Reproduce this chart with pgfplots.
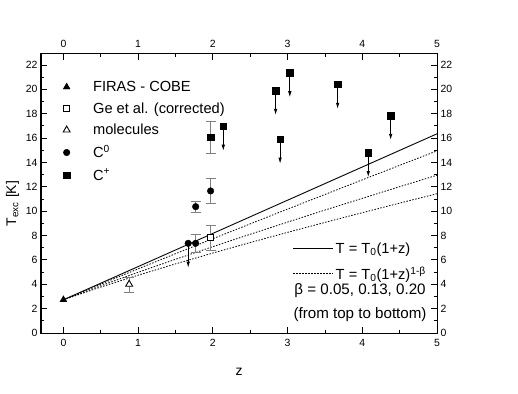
\documentclass[border=0pt]{standalone}
\usepackage{fontspec}
\setmainfont{Liberation Sans}
\usepackage{pgfplots}
\pgfplotsset{compat=1.18}
\usetikzlibrary{arrows.meta}

\newcommand\lf{\fontsize{14.7}{17}\selectfont}

\pgfplotsset{
  base/.style={
    width=396bp, height=279bp, scale only axis,
    xmin=-0.3, xmax=5, ymin=0, ymax=22.9,
    xtick={0,...,5}, minor xtick={0.5,1.5,...,4.5},
    ytick={0,2,...,22}, minor ytick={1,3,...,21},
    major tick length=6bp, minor tick length=3.5bp,
    tick style={black, line width=0.8bp},
    axis line style={line width=1bp},
    tick label style={font=\fontsize{10.5}{12}\selectfont},
    /pgf/number format/assume math mode=true,
  },
  % error bars only, drawn below the marks
  ebar/.style={
    only marks, mark=none, forget plot,
    error bars/.cd, y dir=both, y explicit,
    error bar style={gray, line width=0.7bp},
    error mark options={rotate=90, gray, mark size=5bp, line width=0.7bp},
  },
}

\begin{document}
\begin{tikzpicture}
% lines and the upper / right tick labels
\begin{axis}[base,
  xticklabel pos=upper, yticklabel pos=right,
  xticklabel style={yshift=3bp},
  legend cell align=left,
  legend image code/.code={\draw[#1] (0bp,0bp) -- (40bp,0bp);},
  legend style={draw=none, fill=none, inner sep=0pt, row sep=8bp,
    at={(rel axis cs:1,0)}, anchor=south east, xshift=-9bp, yshift=50bp},
]
\addplot[black, line width=0.9bp] coordinates {(0,2.725) (5,16.35)};
\addlegendentry{\lf T = T\textsubscript{0}(1+z)}
\addplot[black, line width=0.8bp, dash pattern=on 1.5bp off 1.5bp] coordinates {
  (0,2.725) (0.5,4.006) (1,5.264) (1.5,6.508) (2,7.739) (2.5,8.958)
  (3,10.17) (3.5,11.37) (4,12.57) (4.5,13.76) (5,14.95)};
\addlegendentry{\lf T = T\textsubscript{0}(1+z)\textsuperscript{1-β}}
\addplot[black, line width=0.8bp, dash pattern=on 1.5bp off 1.5bp, forget plot] coordinates {
  (0,2.725) (0.5,3.878) (1,4.980) (1.5,6.048) (2,7.087) (2.5,8.104)
  (3,9.102) (3.5,10.09) (4,11.05) (4.5,12.01) (5,12.95)};
\addplot[black, line width=0.8bp, dash pattern=on 1.5bp off 1.5bp, forget plot] coordinates {
  (0,2.725) (0.5,3.769) (1,4.744) (1.5,5.672) (2,6.562) (2.5,7.424)
  (3,8.261) (3.5,9.077) (4,9.875) (4.5,10.66) (5,11.43)};
\node[align=center, font=\fontsize{15.2}{24}\selectfont] at (axis cs:3.97,2.46)
  {β = 0.05, 0.13, 0.20\\(from top to bottom)};
\end{axis}

% measurements
\begin{axis}[base, name=main,
  xlabel={z}, ylabel={T\textsubscript{exc} [K]},
  label style={font=\fontsize{14}{16}\selectfont},
  xticklabel style={yshift=-3bp},
  xlabel style={yshift=-14bp},
  ylabel style={xshift=-10bp},
  legend cell align=left,
  legend style={draw=none, fill=none, inner sep=0pt, row sep=5.5bp,
    at={(rel axis cs:0,1)}, anchor=north west, xshift=22bp, yshift=-25bp,
    /tikz/every odd column/.append style={column sep=21bp}},
]
\addplot[ebar] coordinates {
  (1.97,7.82) +- (0,1.0)
  (0.88,4.0) += (0,0.6) -= (0,0.7)
  (1.77,7.36) +- (0,0.77)
  (1.77,10.37) +- (0,0.46)
  (1.97,11.66) +- (0,1.05)
  (1.97,16.06) +- (0,1.3)};
% upper limits
\addplot[black, line width=0.8bp, -{Latex[length=6bp,width=3.5bp]},
  quiver={u=0, v=-2}, forget plot] coordinates {
  (1.67,7.36) (2.14,16.96) (2.84,19.9) (3.03,21.35) (2.90,15.9)
  (3.67,20.4) (4.08,14.8) (4.38,17.85)};
\addplot[only marks, mark=triangle*, mark size=4bp, black] coordinates {(0,2.725)};
\addlegendentry{\lf FIRAS - COBE}
\addplot[only marks, mark=square*, mark size=3.2bp, black, fill=white,
  mark options={line width=0.9bp}] coordinates {(1.97,7.82)};
\addlegendentry{\lf Ge et al. (corrected)}
\addplot[only marks, mark=triangle*, mark size=4bp, black, fill=white,
  mark options={line width=0.9bp}] coordinates {(0.88,4.0)};
\addlegendentry{\lf molecules}
\addplot[only marks, mark=*, mark size=3.3bp, black] coordinates {
  (1.67,7.36) (1.77,7.36) (1.77,10.37) (1.97,11.66)};
\addlegendentry{\lf C\textsuperscript{0}}
\addplot[only marks, mark=square*, mark size=3.2bp, black] coordinates {
  (1.97,16.06) (2.14,16.96) (2.84,19.9) (3.03,21.35) (2.90,15.9)
  (3.67,20.4) (4.08,14.8) (4.38,17.85)};
\addlegendentry{\lf C\textsuperscript{+}}
\end{axis}
\path (main.south west) ++(-41bp,-61bp) coordinate (bl);
\path (main.north east) ++(81bp,54bp) coordinate (tr);
\path (bl) rectangle (tr);
\end{tikzpicture}
\end{document}
